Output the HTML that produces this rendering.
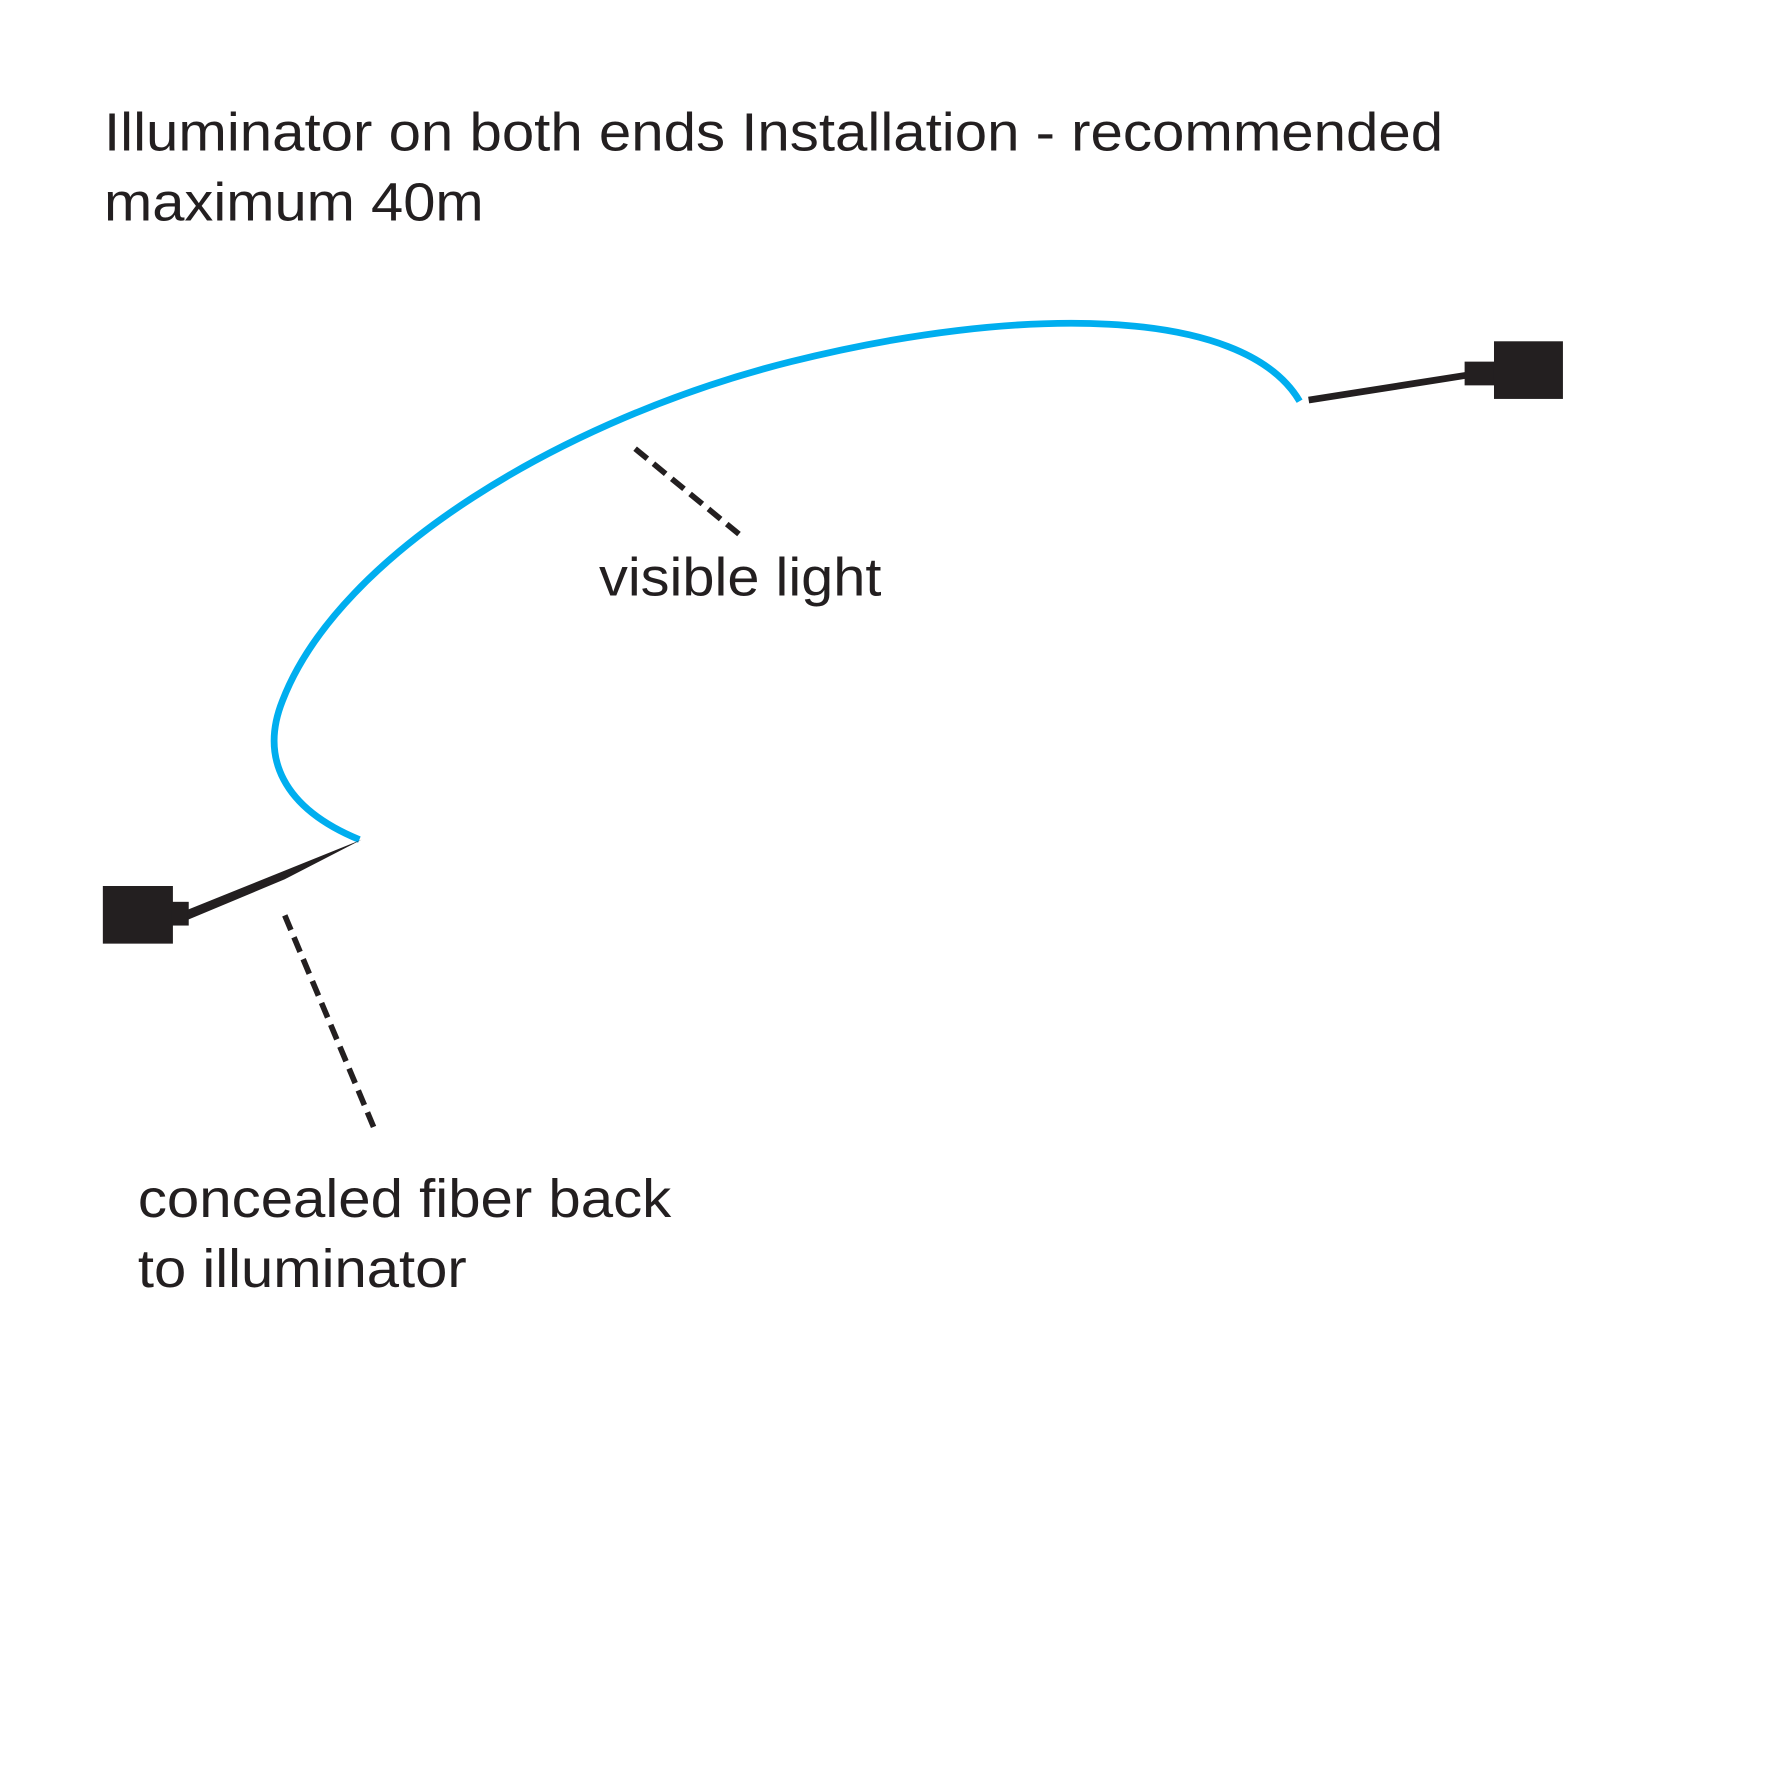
<!DOCTYPE html>
<html><head><meta charset="utf-8"><style>
html,body{margin:0;padding:0;background:#fff;}
svg{display:block;}
text{font-family:"Liberation Sans",Arial,sans-serif;fill:#231f20;}
</style></head><body>
<svg width="1772" height="1772" viewBox="0 0 1568 1568" xmlns="http://www.w3.org/2000/svg">
<rect width="1568" height="1568" fill="#fff"/>
<text x="92" y="133" font-size="48" textLength="1185" lengthAdjust="spacingAndGlyphs">Illuminator on both ends Installation - recommended</text>
<text x="92" y="195" font-size="48" textLength="336" lengthAdjust="spacingAndGlyphs">maximum 40m</text>
<path d="M318,743 C250,715 230,670 250,620 C300,490 500,370 700,320 C900,270 1100,270 1150,355" fill="none" stroke="#00aeef" stroke-width="6"/>
<line x1="1158" y1="354" x2="1298" y2="332" stroke="#231f20" stroke-width="6"/>
<rect x="1296" y="320" width="28" height="21" fill="#231f20"/>
<rect x="1322" y="302" width="61" height="51" fill="#231f20"/>
<rect x="91" y="784" width="62" height="51" fill="#231f20"/>
<rect x="152" y="798" width="15" height="21" fill="#231f20"/>
<polygon points="166,805 166,814 252,778 320,743" fill="#231f20"/>
<line x1="562" y1="397" x2="658" y2="476" stroke="#231f20" stroke-width="5" stroke-dasharray="14,7"/>
<line x1="252" y1="810" x2="333" y2="1003" stroke="#231f20" stroke-width="5" stroke-dasharray="14,7"/>
<text x="530" y="527" font-size="48" textLength="250" lengthAdjust="spacingAndGlyphs">visible light</text>
<text x="122" y="1077" font-size="48" textLength="472" lengthAdjust="spacingAndGlyphs">concealed fiber back</text>
<text x="122" y="1139" font-size="48" textLength="291" lengthAdjust="spacingAndGlyphs">to illuminator</text>
</svg>
</body></html>
